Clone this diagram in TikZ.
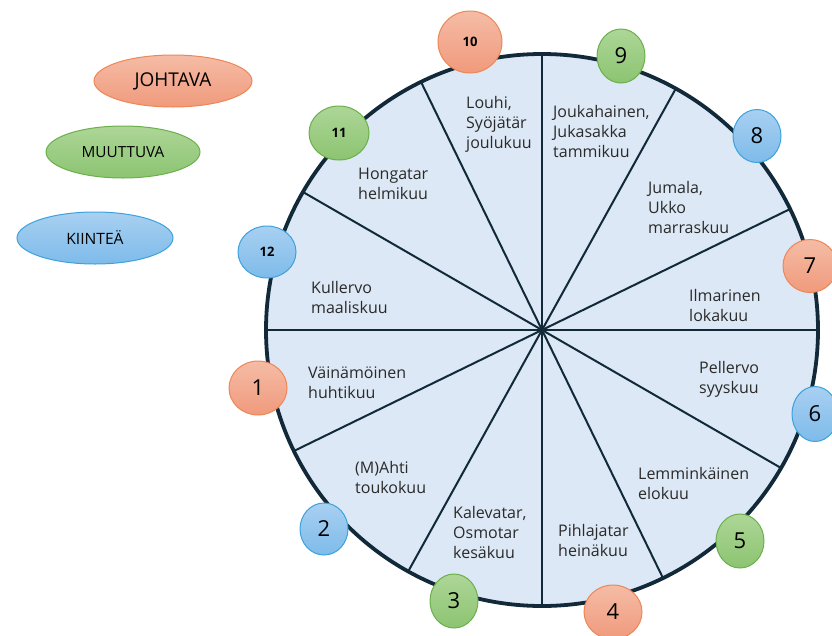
\documentclass[tikz,border=0pt]{standalone}
\usepackage{fontspec}
\setmainfont{Open Sans}
\usepackage{tikz}
\usetikzlibrary{shapes.geometric}
\usepackage{xcolor}

\definecolor{wheelfill}{HTML}{DCE8F5}
\definecolor{wheelline}{HTML}{12293A}
\definecolor{txtgray}{HTML}{2A2A2A}
\definecolor{orangetop}{HTML}{F5BCA6}
\definecolor{orangebot}{HTML}{F09A7C}
\definecolor{orangeline}{HTML}{EE8656}
\definecolor{greentop}{HTML}{ADD697}
\definecolor{greenbot}{HTML}{8CC471}
\definecolor{greenline}{HTML}{6BB04B}
\definecolor{bluetop}{HTML}{A8D0F1}
\definecolor{bluebot}{HTML}{7EBBEA}
\definecolor{blueline}{HTML}{3DA2DC}

\begin{document}
\begin{tikzpicture}[x=1pt,y=-1pt]
    \tikzstyle{badge}=[shape=ellipse,inner sep=0pt,line width=1pt,text=black,font=\fontsize{22}{22}\selectfont]
    \tikzstyle{johtava}=[badge,draw=orangeline,top color=orangetop,bottom color=orangebot]
    \tikzstyle{muuttuva}=[badge,draw=greenline,top color=greentop,bottom color=greenbot]
    \tikzstyle{kiintea}=[badge,draw=blueline,top color=bluetop,bottom color=bluebot]
    \tikzstyle{small}=[font=\fontsize{13}{13}\selectfont\bfseries]
    \tikzstyle{month}=[inner sep=0pt,anchor=west,align=left,text=txtgray,font=\fontsize{16}{20}\selectfont]
    \tikzstyle{wheel}=[shape=circle,inner sep=0pt,minimum size=552pt,fill=wheelfill]

    \useasboundingbox (0,0) rectangle (832,635);

    % legend
    \node[johtava, minimum width=158pt, minimum height=52pt, font=\fontsize{19}{19}\selectfont] (lj) at (173,81) {JOHTAVA};
    \node[muuttuva, minimum width=154pt, minimum height=52pt, font=\fontsize{15.3}{15.3}\selectfont] (lm) at (123,152) {MUUTTUVA};
    \node[kiintea, minimum width=156pt, minimum height=52pt, font=\fontsize{15.6}{15.6}\selectfont] (lk) at (95,238) {KIINTEÄ};

    % wheel
    \node[wheel] (W) at (542,330) {};
    \path[draw,wheelline,line width=2pt]
    (W.90) edge (W.-90)
    (W.61) edge (W.-119)
    (W.26) edge (W.-154)
    (W.0) edge (W.180)
    (W.-30) edge (W.150)
    (W.-64) edge (W.116)
    ;
    \draw[wheelline,line width=3.8pt] (W.center) circle (276);

    % months
    \node[month] (m10) at (466,124) {Louhi,\\Syöjätär\\joulukuu};
    \node[month] (m9) at (553,131) {Joukahainen,\\Jukasakka\\tammikuu};
    \node[month] (m11) at (358,184) {Hongatar\\helmikuu};
    \node[month] (m8) at (648,207) {Jumala,\\Ukko\\marraskuu};
    \node[month] (m12) at (311,297) {Kullervo\\maaliskuu};
    \node[month] (m7) at (689,305) {Ilmarinen\\lokakuu};
    \node[month] (m1) at (308,383) {Väinämöinen\\huhtikuu};
    \node[month] (m6) at (699,379) {Pellervo\\syyskuu};
    \node[month] (m2) at (355,477) {(M)Ahti\\toukokuu};
    \node[month] (m5) at (638,483) {Lemminkäinen\\elokuu};
    \node[month] (m3) at (453,532) {Kalevatar,\\Osmotar\\kesäkuu};
    \node[month] (m4) at (558,540) {Pihlajatar\\heinäkuu};

    % numbers
    \node[johtava, small, minimum width=64pt, minimum height=62pt] (b10) at (470,42) {10};
    \node[muuttuva, minimum width=48pt, minimum height=54pt] (b9) at (621,56) {9};
    \node[kiintea, minimum width=48pt, minimum height=53pt] (b8) at (757,136) {8};
    \node[johtava, minimum width=54pt, minimum height=53pt] (b7) at (810,266) {7};
    \node[kiintea, minimum width=46pt, minimum height=55pt] (b6) at (815,414) {6};
    \node[muuttuva, minimum width=48pt, minimum height=54pt] (b5) at (740,541) {5};
    \node[johtava, minimum width=58pt, minimum height=54pt] (b4) at (613,612) {4};
    \node[muuttuva, minimum width=48pt, minimum height=54pt] (b3) at (454,601) {3};
    \node[kiintea, minimum width=48pt, minimum height=52pt] (b2) at (324,529) {2};
    \node[johtava, minimum width=58pt, minimum height=54pt] (b1) at (258,388) {1};
    \node[kiintea, small, minimum width=58pt, minimum height=52pt] (b12) at (267,252) {12};
    \node[muuttuva, small, minimum width=60pt, minimum height=54pt] (b11) at (339,133) {11};

\end{tikzpicture}
\end{document}
